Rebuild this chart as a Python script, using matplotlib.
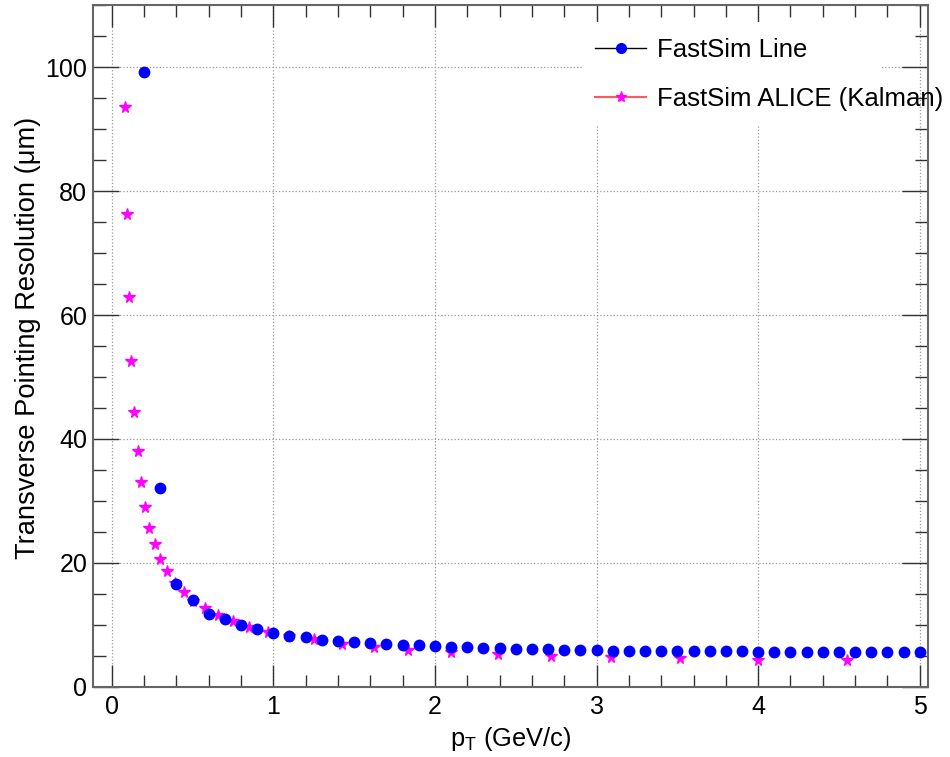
import numpy as np
import matplotlib.pyplot as plt
from matplotlib.lines import Line2D
from matplotlib.patches import Rectangle
from matplotlib.ticker import MultipleLocator

plt.rcParams['font.family'] = ['Liberation Sans', 'DejaVu Sans']

# FastSim Line: pT grid 0.2 - 5.0 GeV/c
pt_line = np.round(np.arange(0.2, 5.01, 0.1), 2)
res_line = [99.3, 32.1, 16.6, 13.95, 11.7, 10.9, 9.97, 9.27, 8.72, 8.19,
            7.98, 7.6, 7.43, 7.17, 7.06, 6.9, 6.79, 6.67, 6.56, 6.44,
            6.39, 6.22, 6.22, 6.11, 6.11, 6.11, 6.0, 5.94, 5.89, 5.83,
            5.83, 5.83, 5.83, 5.83, 5.72, 5.72, 5.72, 5.72, 5.67, 5.67,
            5.67, 5.61, 5.56, 5.56, 5.56, 5.56, 5.56, 5.56, 5.56]

# FastSim ALICE (Kalman): log-spaced pT points
pt_kalman = [0.084, 0.095, 0.105, 0.119, 0.138, 0.161, 0.179, 0.206, 0.231,
             0.266, 0.301, 0.342, 0.39, 0.445, 0.506, 0.577, 0.656, 0.748,
             0.852, 0.967, 1.1, 1.252, 1.425, 1.623, 1.835, 2.1, 2.389,
             2.717, 3.091, 3.519, 4.0, 4.549]
res_kalman = [93.6, 76.3, 62.9, 52.5, 44.4, 38.1, 33.0, 29.0, 25.6,
              23.0, 20.6, 18.6, 16.8, 15.35, 13.9, 12.66, 11.58, 10.66,
              9.69, 8.89, 8.2, 7.65, 6.95, 6.46, 5.93, 5.56, 5.22,
              4.94, 4.78, 4.56, 4.33, 4.28]

fig = plt.figure(figsize=(9.5, 7.57), dpi=100)
ax = fig.add_axes([0.0976, 0.0929, 0.8796, 0.9001])

ax.plot(pt_kalman, res_kalman, ls='none', marker='*', ms=8.5, color='#ff00ff', zorder=2)
ax.plot(pt_line, res_line, ls='none', marker='o', ms=7.5, color='#0000ff', zorder=2.1)

ax.set_xlim(-0.1176, 5.053)
ax.set_ylim(0, 110)
ax.xaxis.set_major_locator(MultipleLocator(1))
ax.xaxis.set_minor_locator(MultipleLocator(0.2))
ax.yaxis.set_major_locator(MultipleLocator(20))
ax.yaxis.set_minor_locator(MultipleLocator(5))
ax.tick_params(which='both', direction='in', top=True, right=True,
               labelsize=18, color='#333333')
ax.tick_params(axis='x', which='major', length=16, width=1, pad=6)
ax.tick_params(axis='x', which='minor', length=8.5, width=1)
ax.tick_params(axis='y', which='major', length=18.5, width=1, pad=4)
ax.tick_params(axis='y', which='minor', length=9.5, width=1)
for s in ax.spines.values():
    s.set_color('#666666')
    s.set_linewidth(1.5)

ax.grid(True, which='major', ls=':', color='#999999', lw=0.9)

ax.set_xlabel(r'$\mathregular{p_T}$ (GeV/c)', fontsize=18.4)
ax.xaxis.set_label_coords(0.5, -0.056)
ax.set_ylabel('Transverse Pointing Resolution (\u03bcm)', fontsize=19.6)
ax.yaxis.set_label_coords(-0.062, 0.512)

# white box behind the legend hides the grid
ax.add_patch(Rectangle((583 / 950, 1 - 125 / 757), 297 / 950, 103 / 757,
                       transform=fig.transFigure, facecolor='white',
                       edgecolor='none', zorder=2.2, clip_on=False))

handles = [Line2D([], [], color='black', lw=1, marker='o', ms=7,
                  mfc='#0000ff', mec='#0000ff'),
           Line2D([], [], color='#ff5a5a', lw=1.5, marker='*', ms=8,
                  mfc='#ff00ff', mec='#ff00ff')]
leg = ax.legend(handles, ['FastSim Line', 'FastSim ALICE (Kalman)'],
                loc='center left', bbox_to_anchor=(595 / 950, 1 - 74.3 / 757),
                bbox_transform=fig.transFigure, frameon=False, fontsize=18.5,
                handlelength=2.0, handletextpad=0.4, labelspacing=0.98,
                borderpad=0, borderaxespad=0)
leg.set_zorder(5)

fig.savefig('out.png', dpi=100)
